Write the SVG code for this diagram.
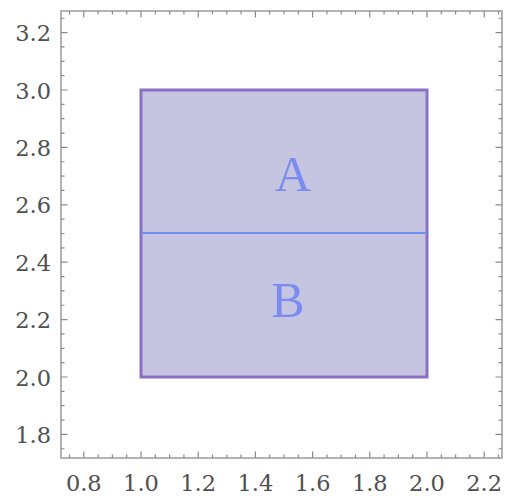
<svg xmlns="http://www.w3.org/2000/svg" width="506" height="496" viewBox="0 0 506 496">
<style>
.frame{fill:none;stroke:#9a9a9a;stroke-width:1.5}
.tk{fill:none;stroke:#8a8a8a;stroke-width:1.2}
.lbl{font-family:"DejaVu Serif","Liberation Serif",serif;font-size:22.5px;fill:#505050}
.big{font-family:"Liberation Serif","Times New Roman",serif;font-size:50px;fill:#7b8cf0}
</style>
<rect width="506" height="496" fill="#fff"/>
<g id="regions">
<rect x="141" y="90" width="286" height="287" fill="#c5c5e1" stroke="#8b6fc3" stroke-width="3"/>
<line x1="141" y1="233" x2="427" y2="233" stroke="#7090f0" stroke-width="2"/>
<text class="big" x="293" y="191" text-anchor="middle">A</text>
<text class="big" x="288" y="317" text-anchor="middle">B</text>
</g>
<g id="axes">
<rect class="frame" x="61" y="11" width="441" height="447"/>
<path class="tk" d="M69.5 458v-3.5M98.1 458v-3.5M112.4 458v-3.5M126.7 458v-3.5M155.3 458v-3.5M169.6 458v-3.5M183.9 458v-3.5M212.5 458v-3.5M226.8 458v-3.5M241.1 458v-3.5M269.7 458v-3.5M284 458v-3.5M298.3 458v-3.5M326.9 458v-3.5M341.2 458v-3.5M355.5 458v-3.5M384.1 458v-3.5M398.4 458v-3.5M412.7 458v-3.5M441.3 458v-3.5M455.6 458v-3.5M469.9 458v-3.5M498.5 458v-3.5
M69.5 11v3.5M98.1 11v3.5M112.4 11v3.5M126.7 11v3.5M155.3 11v3.5M169.6 11v3.5M183.9 11v3.5M212.5 11v3.5M226.8 11v3.5M241.1 11v3.5M269.7 11v3.5M284 11v3.5M298.3 11v3.5M326.9 11v3.5M341.2 11v3.5M355.5 11v3.5M384.1 11v3.5M398.4 11v3.5M412.7 11v3.5M441.3 11v3.5M455.6 11v3.5M469.9 11v3.5M498.5 11v3.5"/>
<path class="tk" d="M83.8 458v-6.5M141 458v-6.5M198.2 458v-6.5M255.4 458v-6.5M312.6 458v-6.5M369.8 458v-6.5M427 458v-6.5M484.2 458v-6.5
M83.8 11v6.5M141 11v6.5M198.2 11v6.5M255.4 11v6.5M312.6 11v6.5M369.8 11v6.5M427 11v6.5M484.2 11v6.5"/>
<path class="tk" d="M61 448.75h3.5M61 420.05h3.5M61 405.7h3.5M61 391.35h3.5M61 362.65h3.5M61 348.3h3.5M61 333.95h3.5M61 305.25h3.5M61 290.9h3.5M61 276.55h3.5M61 247.85h3.5M61 233.5h3.5M61 219.15h3.5M61 190.45h3.5M61 176.1h3.5M61 161.75h3.5M61 133.05h3.5M61 118.7h3.5M61 104.35h3.5M61 75.65h3.5M61 61.3h3.5M61 46.95h3.5M61 18.25h3.5
M502 448.75h-3.5M502 420.05h-3.5M502 405.7h-3.5M502 391.35h-3.5M502 362.65h-3.5M502 348.3h-3.5M502 333.95h-3.5M502 305.25h-3.5M502 290.9h-3.5M502 276.55h-3.5M502 247.85h-3.5M502 233.5h-3.5M502 219.15h-3.5M502 190.45h-3.5M502 176.1h-3.5M502 161.75h-3.5M502 133.05h-3.5M502 118.7h-3.5M502 104.35h-3.5M502 75.65h-3.5M502 61.3h-3.5M502 46.95h-3.5M502 18.25h-3.5"/>
<path class="tk" d="M61 434.4h6.5M61 377h6.5M61 319.6h6.5M61 262.2h6.5M61 204.8h6.5M61 147.4h6.5M61 90h6.5M61 32.6h6.5
M502 434.4h-6.5M502 377h-6.5M502 319.6h-6.5M502 262.2h-6.5M502 204.8h-6.5M502 147.4h-6.5M502 90h-6.5M502 32.6h-6.5"/>
<g class="lbl" text-anchor="end">
<text x="51" y="442.5">1.8</text>
<text x="51" y="385.5">2.0</text>
<text x="51" y="327.5">2.2</text>
<text x="51" y="270.5">2.4</text>
<text x="51" y="212.5">2.6</text>
<text x="51" y="155.5">2.8</text>
<text x="51" y="98.5">3.0</text>
<text x="51" y="40.5">3.2</text>
</g>
<g class="lbl" text-anchor="middle">
<text x="83.8" y="491">0.8</text>
<text x="141" y="491">1.0</text>
<text x="198.2" y="491">1.2</text>
<text x="255.4" y="491">1.4</text>
<text x="312.6" y="491">1.6</text>
<text x="369.8" y="491">1.8</text>
<text x="427" y="491">2.0</text>
<text x="484.2" y="491">2.2</text>
</g>
</g>
</svg>
